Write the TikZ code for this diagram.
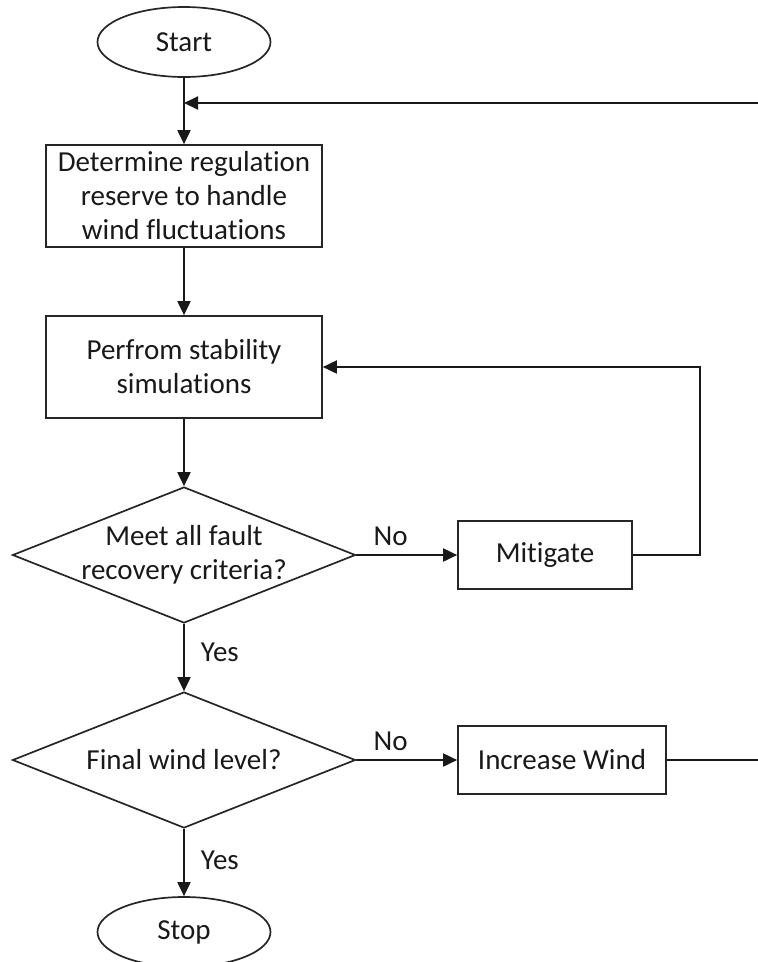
\documentclass[tikz,border=0pt]{standalone}
\usepackage{fontspec}
\setmainfont[Ligatures={NoCommon}]{Carlito}
\usetikzlibrary{shapes.geometric,arrows.meta}
\begin{document}
\begin{tikzpicture}[x=1pt,y=-1pt,
  every node/.style={font=\fontsize{29}{34}\selectfont, text=black!90},
  line/.style={draw=black!90, line width=1.9pt},
  arr/.style={line, -{Triangle[length=14pt,width=13pt]}},
  procbox/.style={draw=black!85, line width=1.7pt, minimum width=276pt, minimum height=102pt, align=center, inner sep=0pt},
  term/.style={draw=black!85, ellipse, line width=1.7pt, minimum width=173pt, minimum height=70pt, inner sep=0pt},
  decision/.style={draw=black!85, diamond, line width=1.7pt, minimum width=343pt, minimum height=136pt, inner sep=0pt},
  sidebox/.style={draw=black!85, line width=1.7pt, minimum height=68pt, inner sep=0pt},
  lbl/.style={inner sep=0pt}]
\useasboundingbox (0,0) rectangle (758,962);
\node[term] (start) at (184,42) {Start};
\node[procbox] (det) at (184,196) {Determine regulation\\reserve to handle\\wind fluctuations};
\node[procbox] (sim) at (184,367) {Perfrom stability\\simulations};
\node[decision, label={[align=center, inner sep=0pt]center:Meet all fault\\recovery criteria?}] (d1) at (184,555) {};
\node[sidebox, minimum width=174pt] (mit) at (545,555) {Mitigate};
\node[decision, label={[inner sep=0pt]center:Final wind level?}] (d2) at (184,760) {};
\node[sidebox, minimum width=208pt] (inc) at (562,760) {Increase Wind};
\node[term] (stop) at (184,932) {Stop};
\coordinate (j) at (184,103);
\coordinate (rin) at (758,103);
\coordinate (rout) at (758,760);
\coordinate (lp) at (700,555);
\draw[line] (start.south) -- (j);
\draw[arr] (j) -- (det.north);
\draw[arr] (rin) -- (j);
\draw[arr] (det.south) -- (sim.north);
\draw[arr] (sim.south) -- (d1.north);
\draw[arr] (d1.east) -- node[lbl, pos=0.34, above=8pt] (no1) {No} (mit.west);
\draw[arr] (mit.east) -- (lp) |- (sim.east);
\draw[arr] (d1.south) -- node[lbl, pos=0.42, right=16pt] (yes1) {Yes} (d2.north);
\draw[arr] (d2.east) -- node[lbl, pos=0.34, above=8pt] (no2) {No} (inc.west);
\draw[line] (inc.east) -- (rout);
\draw[arr] (d2.south) -- node[lbl, pos=0.46, right=16pt] (yes2) {Yes} (stop.north);
\end{tikzpicture}
\end{document}
